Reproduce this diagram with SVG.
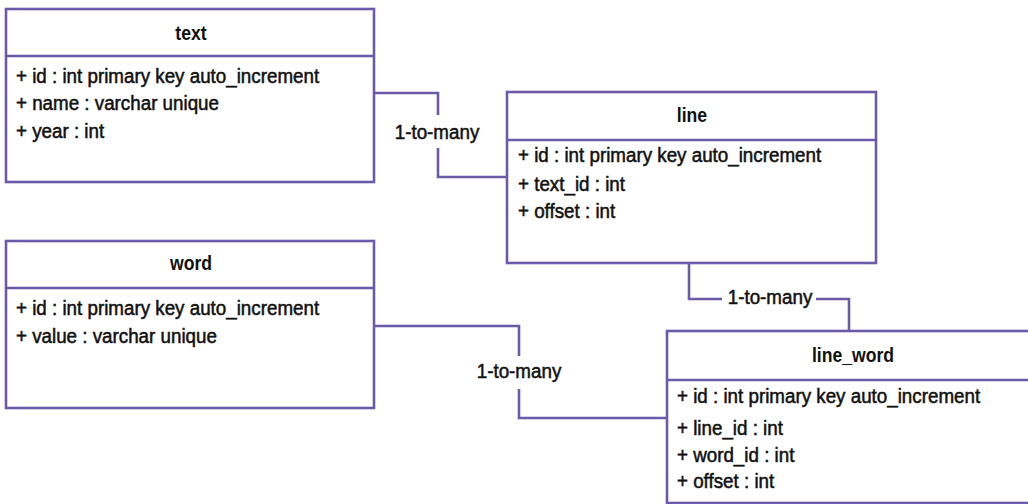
<svg xmlns="http://www.w3.org/2000/svg" width="1028" height="504" viewBox="0 0 1028 504">
<style>
.box{fill:#fff;stroke:#6a5aa8;stroke-width:2.6}
.div{stroke:#6a5aa8;stroke-width:2.6}
.conn{fill:none;stroke:#6a5aa8;stroke-width:2.6}
.t{font-family:"Liberation Sans",Arial,sans-serif;font-size:20px;font-weight:bold;fill:#111;text-anchor:middle}
.a{font-family:"Liberation Sans",Arial,sans-serif;font-size:21px;fill:#111;stroke:#111;stroke-width:0.55}
.l{font-family:"Liberation Sans",Arial,sans-serif;font-size:21px;fill:#111;stroke:#111;stroke-width:0.55;text-anchor:middle}
</style>
<rect width="1028" height="504" fill="#fff"/>
<g id="connectors">
<path class="conn" d="M374 93 H438 V115 M438 148 V177 H507"/>
<text class="l" transform="translate(437 139) scale(0.895 1)">1-to-many</text>
<path class="conn" d="M689 264 V299 H722 M816 299 H849 V331"/>
<text class="l" transform="translate(770 304) scale(0.895 1)">1-to-many</text>
<path class="conn" d="M374 326 H519 V356 M519 389 V418 H667"/>
<text class="l" transform="translate(519 378) scale(0.895 1)">1-to-many</text>
</g>
<g id="text">
<rect class="box" x="6" y="9" width="368" height="173"/>
<line class="div" x1="6" y1="56" x2="374" y2="56"/>
<text class="t" transform="translate(191 40) scale(0.88 1)">text</text>
<text class="a" transform="translate(16 83) scale(0.895 1)">+ id : int primary key auto_increment</text>
<text class="a" transform="translate(16 110) scale(0.895 1)">+ name : varchar unique</text>
<text class="a" transform="translate(16 138) scale(0.895 1)">+ year : int</text>
</g>
<g id="line">
<rect class="box" x="507" y="92" width="369" height="171"/>
<line class="div" x1="507" y1="140" x2="876" y2="140"/>
<text class="t" transform="translate(692 122) scale(0.88 1)">line</text>
<text class="a" transform="translate(518 162) scale(0.895 1)">+ id : int primary key auto_increment</text>
<text class="a" transform="translate(518 191) scale(0.895 1)">+ text_id : int</text>
<text class="a" transform="translate(518 218) scale(0.895 1)">+ offset : int</text>
</g>
<g id="word">
<rect class="box" x="6" y="241" width="368" height="167"/>
<line class="div" x1="6" y1="288" x2="374" y2="288"/>
<text class="t" transform="translate(191 270) scale(0.88 1)">word</text>
<text class="a" transform="translate(16 315) scale(0.895 1)">+ id : int primary key auto_increment</text>
<text class="a" transform="translate(16 343) scale(0.895 1)">+ value : varchar unique</text>
</g>
<g id="line_word">
<rect class="box" x="667" y="331" width="370" height="172"/>
<line class="div" x1="667" y1="380" x2="1037" y2="380"/>
<text class="t" transform="translate(853 362) scale(0.88 1)">line_word</text>
<text class="a" transform="translate(677 403) scale(0.895 1)">+ id : int primary key auto_increment</text>
<text class="a" transform="translate(677 435) scale(0.895 1)">+ line_id : int</text>
<text class="a" transform="translate(677 462) scale(0.895 1)">+ word_id : int</text>
<text class="a" transform="translate(677 488) scale(0.895 1)">+ offset : int</text>
</g>
</svg>
